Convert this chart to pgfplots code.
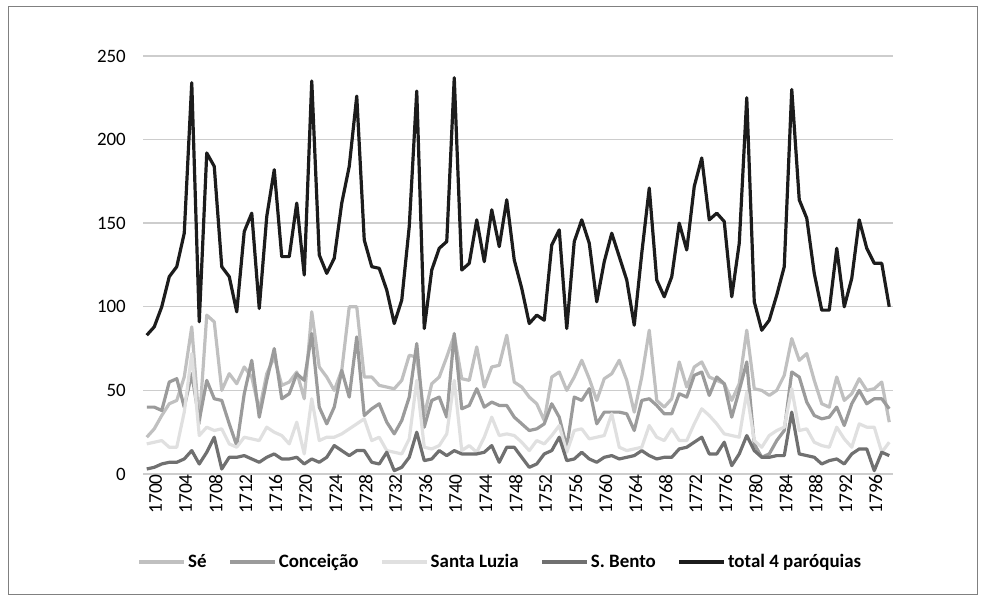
\documentclass[border=0pt]{standalone}
\usepackage{fontspec}
\setmainfont{Carlito}
\usepackage{pgfplots}
\pgfplotsset{compat=1.18}
\usepackage{pgfplotstable}
\definecolor{cse}{RGB}{192,192,192}
\definecolor{cconc}{RGB}{155,155,155}
\definecolor{csl}{RGB}{224,224,224}
\definecolor{csb}{RGB}{112,112,112}
\definecolor{ctot}{RGB}{28,28,28}
\definecolor{cgrid}{RGB}{205,205,205}
\pgfplotstableread{
year se conc sl sb total
1700 22 40 18 3 83
1701 27 40 19 4 88
1702 35 38 20 6 100
1703 42 55 16 7 118
1704 44 57 16 7 124
1705 58 40 37 9 144
1706 88 60 72 14 234
1707 30 32 23 6 91
1708 95 56 28 13 192
1709 91 45 26 22 184
1710 50 44 27 3 124
1711 60 30 18 10 118
1712 54 17 16 10 97
1713 64 48 22 11 145
1714 58 68 21 9 156
1715 38 34 20 7 99
1716 60 56 28 10 154
1717 70 75 25 12 182
1718 53 45 23 9 130
1719 55 48 18 9 130
1720 61 60 31 10 162
1721 45 56 12 6 119
1722 97 84 45 9 235
1723 64 40 20 7 131
1724 58 30 22 10 120
1725 50 40 22 17 129
1726 62 62 24 14 162
1727 100 46 27 11 184
1728 100 82 30 14 226
1729 58 35 33 14 140
1730 58 39 20 7 124
1731 53 42 22 6 123
1732 52 31 14 13 110
1733 51 24 13 2 90
1734 56 32 12 4 104
1735 71 46 21 10 148
1736 70 78 56 25 229
1737 35 28 16 8 87
1738 54 44 15 9 122
1739 58 46 17 14 135
1740 70 34 24 11 139
1741 83 84 56 14 237
1742 57 39 14 12 122
1743 56 41 17 12 126
1744 76 51 13 12 152
1745 52 40 22 13 127
1746 64 43 34 17 158
1747 65 41 23 7 136
1748 83 41 24 16 164
1749 55 34 23 16 128
1750 52 30 19 10 111
1751 46 26 14 4 90
1752 42 27 20 6 95
1753 32 30 18 12 92
1754 58 42 23 14 137
1755 61 34 29 22 146
1756 50 16 13 8 87
1757 58 46 26 9 139
1758 68 44 27 13 152
1759 57 51 21 9 138
1760 44 30 22 7 103
1761 57 37 23 10 127
1762 60 37 36 11 144
1763 68 37 16 9 130
1764 56 36 14 10 116
1765 37 26 15 11 89
1766 58 44 16 14 132
1767 86 45 29 11 171
1768 44 41 22 9 116
1769 40 36 20 10 106
1770 45 36 27 10 118
1771 67 48 20 15 150
1772 52 46 20 16 134
1773 64 59 30 19 172
1774 67 61 39 22 189
1775 58 47 35 12 152
1776 56 58 30 12 156
1777 54 54 24 19 151
1778 44 34 23 5 106
1779 54 50 22 12 138
1780 86 67 49 23 225
1781 51 18 20 14 103
1782 50 10 16 10 86
1783 47 12 23 10 92
1784 50 20 26 11 107
1785 59 26 28 11 124
1786 81 61 51 37 230
1787 68 58 26 12 164
1788 72 43 27 11 153
1789 56 35 19 10 120
1790 42 33 17 6 98
1791 40 34 16 8 98
1792 58 40 28 9 135
1793 44 29 21 6 100
1794 48 42 16 12 117
1795 57 50 30 15 152
1796 50 42 28 15 135
1797 51 45 28 2 126
1798 55 45 13 13 126
1799 31 39 19 11 100
}\data
\begin{document}
\begin{tikzpicture}
\useasboundingbox (0bp,0bp) rectangle (987bp,607bp);
\draw[line width=1bp, color=black!50] (8bp,12bp) rectangle (977bp,600bp);
\begin{axis}[
  at={(143bp,133bp)}, anchor=south west,
  scale only axis, width=750bp, height=418bp,
  xmin=1699.5, xmax=1799.5, ymin=0, ymax=250,
  ytick={0,50,...,250}, xtick={1700,1704,...,1796},
  ymajorgrids, major grid style={draw=cgrid, line width=1.4bp},
  axis line style={draw=none}, tick style={draw=none},
  /pgf/number format/assume math mode=true,
  /pgf/number format/1000 sep={},
  yticklabel style={font=\fontsize{19}{22}\selectfont, inner sep=0pt, anchor=east, xshift=-17bp},
  xticklabel style={font=\fontsize{19.5}{22}\selectfont, inner sep=0pt, rotate=90, anchor=east, yshift=-9bp},
  every axis plot/.append style={line width=3.2bp, line join=round, no markers},
  legend columns=5,
  legend style={at={(0.4767,-0.2105)}, anchor=center, draw=none, fill=none,
    font=\fontsize{19}{22}\selectfont\bfseries, nodes={inner sep=2bp},
    /tikz/every even column/.append style={column sep=20bp}},
  legend image code/.code={\draw[#1] (0bp,0bp) -- (45bp,0bp);},
]
\addplot[cse] table[x=year, y=se] {\data};
\addlegendentry{Sé}
\addplot[cconc] table[x=year, y=conc] {\data};
\addlegendentry{Conceição}
\addplot[csl] table[x=year, y=sl] {\data};
\addlegendentry{Santa Luzia}
\addplot[csb] table[x=year, y=sb] {\data};
\addlegendentry{S. Bento}
\addplot[ctot] table[x=year, y=total] {\data};
\addlegendentry{total 4 paróquias}
\end{axis}
\end{tikzpicture}
\end{document}
